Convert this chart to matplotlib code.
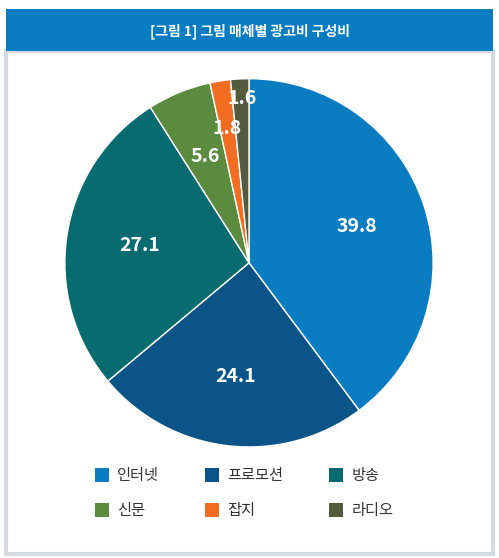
import matplotlib.pyplot as plt
from matplotlib.patches import Rectangle
import numpy as np

plt.rcParams['font.family'] = ['Noto Sans CJK KR', 'DejaVu Sans']

labels = ['인터넷', '프로모션', '방송', '신문', '잡지', '라디오']
values = [39.8, 24.1, 27.1, 5.6, 1.8, 1.6]
colors = ['#0a7cc1', '#0b5487', '#086b70', '#5a8b3f', '#f26c22', '#535a3d']

fig = plt.figure(figsize=(4.99, 5.58), dpi=100)
fig.patch.set_facecolor('white')

# outer frame and header bar
fig.add_artist(Rectangle((0.012, 0.008), 0.976, 0.9, transform=fig.transFigure,
                         fill=False, edgecolor='#d5dbe0', linewidth=3))
fig.add_artist(Rectangle((0.012, 0.908), 0.976, 0.075, transform=fig.transFigure,
                         facecolor='#0a7cc1', edgecolor='none'))
fig.text(0.5, 0.945, '[그림 1] 그림 매체별 광고비 구성비', color='white',
         ha='center', va='center', fontsize=10, fontweight='bold')

ax = fig.add_axes([0.13, 0.199, 0.738, 0.66])
wedges, _ = ax.pie(values, colors=colors, startangle=90, counterclock=False,
                   wedgeprops=dict(edgecolor='white', linewidth=1))
ax.set_aspect('equal')
ax.set_xlim(-1.0, 1.0)
ax.set_ylim(-1.0, 1.0)

label_pos = [None, None, None, (-0.24, 0.58), (-0.12, 0.73), (-0.04, 0.89)]
label_r = [0.62, 0.62, 0.6, 0, 0, 0]
for w, v, r, pos in zip(wedges, values, label_r, label_pos):
    if pos is None:
        ang = np.deg2rad((w.theta1 + w.theta2) / 2)
        pos = (r * np.cos(ang), r * np.sin(ang))
    ax.text(pos[0], pos[1], f'{v}', color='white',
            ha='center', va='center', fontsize=14, fontweight='bold')

# legend
lx = [0.19, 0.41, 0.66]
ly = [0.148, 0.085]
for i, (lab, c) in enumerate(zip(labels, colors)):
    x, y = lx[i % 3], ly[i // 3]
    fig.add_artist(Rectangle((x, y - 0.012), 0.028, 0.025, transform=fig.transFigure,
                             facecolor=c, edgecolor='none'))
    fig.text(x + 0.045, y, lab, ha='left', va='center', fontsize=11, color='#333333')

fig.savefig('out.png', dpi=100)
